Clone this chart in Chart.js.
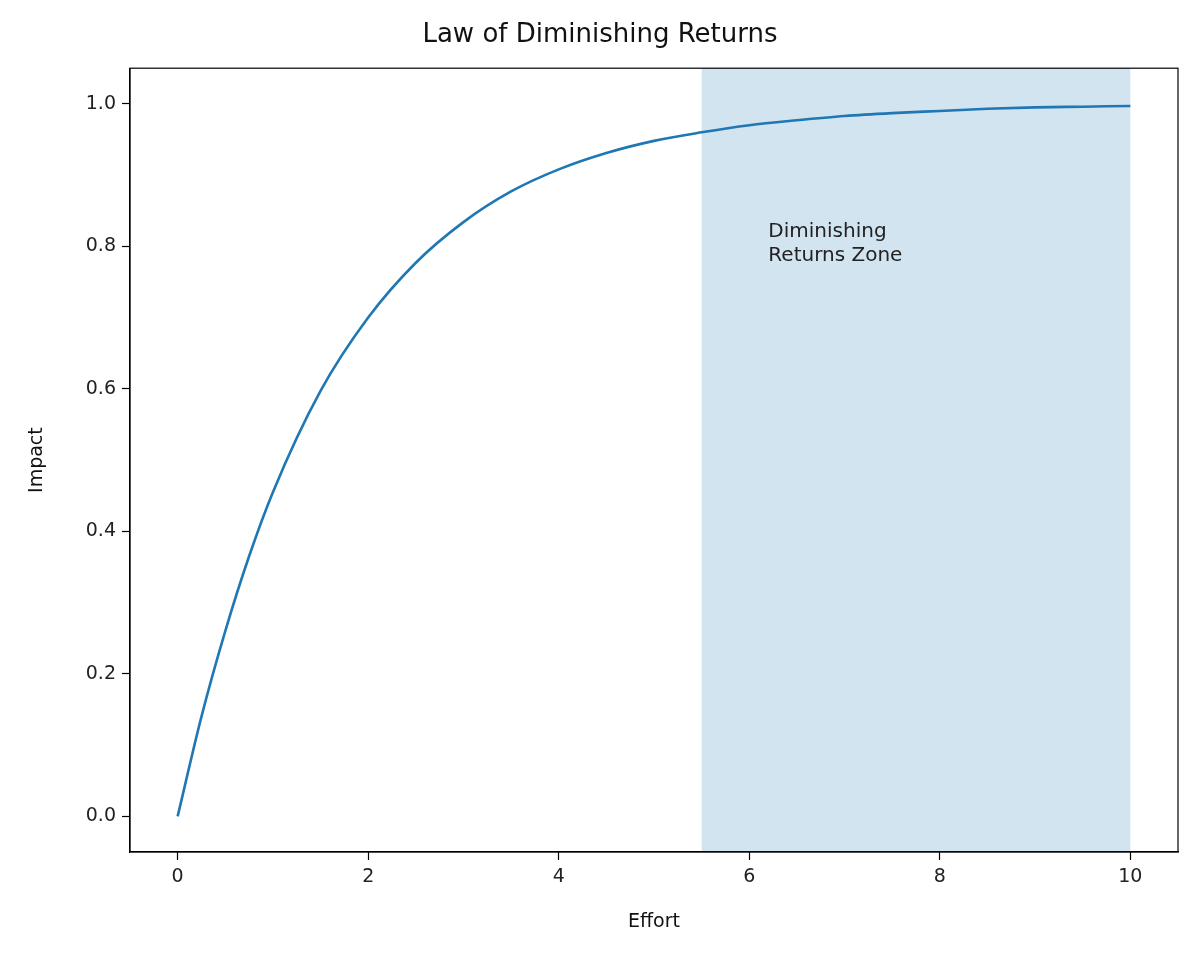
<!DOCTYPE html>
<html>
<head>
<meta charset="utf-8">
<script src="https://cdn.jsdelivr.net/npm/chart.js"></script>
<style>
  html, body { margin: 0; padding: 0; background: #fff; }
  #wrap { width: 1200px; height: 955px; }
</style>
</head>
<body>
<div id="wrap"><canvas id="c"></canvas></div>
<script>
// values
const effort = [0, 0.25, 0.5, 0.75, 1, 1.5, 2, 2.5, 3, 3.5, 4, 4.5, 5, 5.5, 6, 6.5, 7, 7.5, 8, 8.5, 9, 9.5, 10];
const impact = [0, 0.14, 0.26, 0.365, 0.455, 0.597, 0.7, 0.777, 0.834, 0.877, 0.908, 0.931, 0.948, 0.96, 0.97, 0.977, 0.983, 0.987, 0.990, 0.993, 0.995, 0.996, 0.997];
const xTicks = [0, 2, 4, 6, 8, 10];
const yTicks = [0, 0.2, 0.4, 0.6, 0.8, 1.0];
const zoneRange = [5.5, 10];
const zoneLabel = ['Diminishing', 'Returns Zone'];
const zoneLabelAt = [6.2, 0.835];

const font = 'DejaVu Sans';
const zonePlugin = {
  id: 'zone',
  beforeDatasetsDraw(chart) {
    const { ctx, chartArea, scales } = chart;
    const x0 = scales.x.getPixelForValue(zoneRange[0]);
    const x1 = scales.x.getPixelForValue(zoneRange[1]);
    ctx.save();
    ctx.fillStyle = 'rgba(31,119,180,0.2)';
    ctx.fillRect(x0, chartArea.top, x1 - x0, chartArea.bottom - chartArea.top);
    ctx.restore();
  },
  afterDatasetsDraw(chart) {
    const { ctx, chartArea, scales } = chart;
    ctx.save();
    ctx.fillStyle = '#222';
    ctx.font = '20px "' + font + '"';
    ctx.textBaseline = 'top';
    const lx = scales.x.getPixelForValue(zoneLabelAt[0]);
    const ly = scales.y.getPixelForValue(zoneLabelAt[1]);
    zoneLabel.forEach((t, i) => ctx.fillText(t, lx, ly + i * 24));
    ctx.strokeStyle = '#000';
    ctx.lineWidth = 1.2;
    ctx.strokeRect(chartArea.left, chartArea.top, chartArea.right - chartArea.left, chartArea.bottom - chartArea.top);
    ctx.restore();
  }
};

const axisCommon = {
  type: 'linear',
  grid: { drawOnChartArea: false, color: '#000', tickLength: 8, tickWidth: 1.2 },
  border: { color: '#000', width: 1.2 },
  ticks: { color: '#222', font: { family: font, size: 19 }, padding: 6 }
};

new Chart(document.getElementById('c'), {
  type: 'line',
  data: {
    datasets: [{
      data: effort.map((x, i) => ({ x: x, y: impact[i] })),
      borderColor: '#1f77b4',
      borderWidth: 2.6,
      pointRadius: 0,
      cubicInterpolationMode: 'monotone',
      fill: false
    }]
  },
  options: {
    responsive: true,
    maintainAspectRatio: false,
    animation: false,
    layout: { padding: { left: 22, right: 22, top: 0, bottom: 18 } },
    plugins: {
      legend: { display: false },
      tooltip: { enabled: false },
      title: {
        display: true, text: 'Law of Diminishing Returns', color: '#111',
        font: { family: font, size: 26, weight: 'normal' },
        padding: { top: 20, bottom: 17 }
      }
    },
    scales: {
      x: Object.assign({}, axisCommon, {
        min: -0.5, max: 10.5,
        afterBuildTicks: s => { s.ticks = xTicks.map(v => ({ value: v })); },
        afterFit: s => { s.height = 85; },
        title: { display: true, text: 'Effort', color: '#111', font: { family: font, size: 19 }, padding: { top: 4 } }
      }),
      y: Object.assign({}, axisCommon, {
        min: -0.05, max: 1.05,
        afterBuildTicks: s => { s.ticks = yTicks.map(v => ({ value: v })); },
        afterFit: s => { s.width = 108; },
        ticks: Object.assign({}, axisCommon.ticks, { callback: v => v.toFixed(1) }),
        title: { display: true, text: 'Impact', color: '#111', font: { family: font, size: 19 }, padding: { bottom: 8 } }
      })
    }
  },
  plugins: [zonePlugin]
});
</script>
</body>
</html>
